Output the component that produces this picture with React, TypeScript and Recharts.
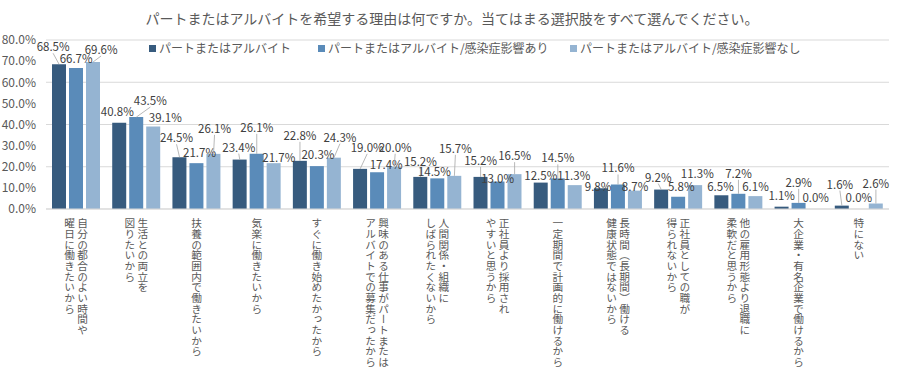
import React from "react";
import {
  ComposedChart,
  Bar,
  Line,
  XAxis,
  YAxis,
  CartesianGrid,
  LabelList,
} from "recharts";

// categories (first line / second line, drawn as vertical columns)
const categories = [
  "自分の都合のよい時間や\n曜日に働きたいから",
  "生活との両立を\n図りたいから",
  "扶養の範囲内で働きたいから",
  "気楽に働きたいから",
  "すぐに働き始めたかったから",
  "興味のある仕事がパートまたは\nアルバイトでの募集だったから",
  "人間関係・組織に\nしばられたくないから",
  "正社員より採用され\nやすいと思うから",
  "一定期間で計画的に働けるから",
  "長時間（長期間）働ける\n健康状態ではないから",
  "正社員としての職が\n得られないから",
  "他の雇用形態より退職に\n柔軟だと思うから",
  "大企業・有名企業で働けるから",
  "特にない",
];

const seriesNames = [
  "パートまたはアルバイト",
  "パートまたはアルバイト/感染症影響あり",
  "パートまたはアルバイト/感染症影響なし",
];

const partTime = [68.5, 40.8, 24.5, 23.4, 22.8, 19.0, 15.2, 15.2, 12.5, 9.8, 9.2, 6.5, 1.1, 1.6];
const withCovid = [66.7, 43.5, 21.7, 26.1, 20.3, 17.4, 14.5, 13.0, 14.5, 11.6, 5.8, 7.2, 2.9, 0.0];
const withoutCovid = [69.6, 39.1, 26.1, 21.7, 24.3, 20.0, 15.7, 16.5, 11.3, 8.7, 11.3, 6.1, 0.0, 2.6];

const yTicks = [0, 10, 20, 30, 40, 50, 60, 70, 80];

const colors = ["#375B7E", "#5A8BB9", "#95B4D2"];
const keys = ["s0", "s1", "s2"];
const legendLeft = [149, 318, 570];

const BAR_SIZE = 14;
const BAR_GAP = 3;

// label placement tweaks (dx, dy from bar top), like the manually moved labels
const labelOffsets = [
  [[-6, -18], [-2, -12], [-3, -20], [-1, -13], [0, -26], [7, -22], [0, -16], [0, -17], [0, -8], [-3, -2], [-3, -13], [-1, -9], [0, -12], [-2, -22]],
  [[0, -10], [14, -17], [3, -11], [0, -27], [1, -12], [9, -8], [-3, -7], [0, -4], [0, -21], [0, -17], [3, -11], [0, -21], [0, -21], [0, -12]],
  [[8, -13], [12, -9], [1, -26], [5, -6], [6, -21], [1, -20], [1, -28], [0, -19], [-1, -10], [0, -5], [2, -12], [0, -10], [0, -12], [0, -21]],
];

const data = categories.map((name, i) => ({
  name,
  s0: partTime[i],
  s1: withCovid[i],
  s2: withoutCovid[i],
}));

const FONT = "'Noto Sans CJK JP', 'Noto Sans', sans-serif";

const XTick = ({ x, y, payload }: any) => {
  const lines = String(payload.value).split("\n");
  const n = lines.length;
  return (
    <g>
      {lines.map((line, i) => (
        <text
          key={i}
          x={x + ((n - 1) / 2) * 13 - i * 13}
          y={y + 9}
          fill="#595959"
          fontSize={10.67}
          fontFamily={FONT}
          style={{ writingMode: "vertical-rl" } as any}
        >
          {line}
        </text>
      ))}
    </g>
  );
};

// labels hang off an invisible line so zero values get one too
const makeLabel = (s: number) => (props: any) => {
  const { x, y, value, index } = props;
  const [dx, dy] = labelOffsets[s][index] || [0, -10];
  const bx = Number(x) + (s - 1) * (BAR_SIZE + BAR_GAP);
  const top = Number(y);
  const cx = bx + dx;
  const cy = top + dy;
  const gap = top - (cy + 7);
  return (
    <g>
      {gap > 5 && (
        <line x1={cx} y1={cy + 7} x2={bx} y2={top} stroke="#A6A6A6" strokeWidth={0.8} />
      )}
      <text
        x={cx}
        y={cy}
        textAnchor="middle"
        dominantBaseline="central"
        fill="#404040"
        fontSize={11.5}
        fontFamily={FONT}
      >
        {Number(value).toFixed(1)}%
      </text>
    </g>
  );
};

export default function App() {
  return (
    <div style={{ position: "absolute", left: 0, top: 0, width: 904, height: 369, background: "#fff", fontFamily: FONT }}>
      <ComposedChart
        width={904}
        height={369}
        data={data}
        margin={{ top: 40, right: 15, bottom: 0, left: 0 }}
        barSize={BAR_SIZE}
        barGap={BAR_GAP}
      >
        <CartesianGrid vertical={false} stroke="#D9D9D9" />
        <XAxis
          dataKey="name"
          interval={0}
          height={160}
          tickLine={false}
          tickSize={0}
          tickMargin={0}
          axisLine={{ stroke: "#D9D9D9" }}
          tick={<XTick />}
        />
        <YAxis
          width={46}
          domain={[0, 80]}
          ticks={yTicks}
          axisLine={false}
          tickLine={false}
          tickSize={0}
          tickMargin={10}
          tickFormatter={(v: number) => v.toFixed(1) + "%"}
          tick={{ fill: "#595959", fontSize: 12, fontFamily: FONT }}
        />
        {keys.map((k, s) => (
          <Bar key={k} dataKey={k} fill={colors[s]} isAnimationActive={false} />
        ))}
        {keys.map((k, s) => (
          <Line
            key={"l" + k}
            dataKey={k}
            stroke="none"
            dot={false}
            activeDot={false}
            legendType="none"
            isAnimationActive={false}
          >
            <LabelList dataKey={k} content={makeLabel(s)} />
          </Line>
        ))}
      </ComposedChart>
      <div
        style={{
          position: "absolute",
          left: 0,
          width: 904,
          top: 10,
          textAlign: "center",
          fontSize: 14,
          lineHeight: "16px",
          color: "#595959",
        }}
      >
        パートまたはアルバイトを希望する理由は何ですか。当てはまる選択肢をすべて選んでください。
      </div>
      {seriesNames.map((n, i) => (
        <div
          key={n}
          style={{
            position: "absolute",
            left: legendLeft[i],
            top: 41,
            display: "flex",
            alignItems: "center",
            gap: 3,
            fontSize: 12,
            lineHeight: "14px",
            color: "#595959",
            whiteSpace: "nowrap",
          }}
        >
          <span style={{ width: 7, height: 7, background: colors[i], display: "inline-block" }} />
          <span>{n}</span>
        </div>
      ))}
    </div>
  );
}
